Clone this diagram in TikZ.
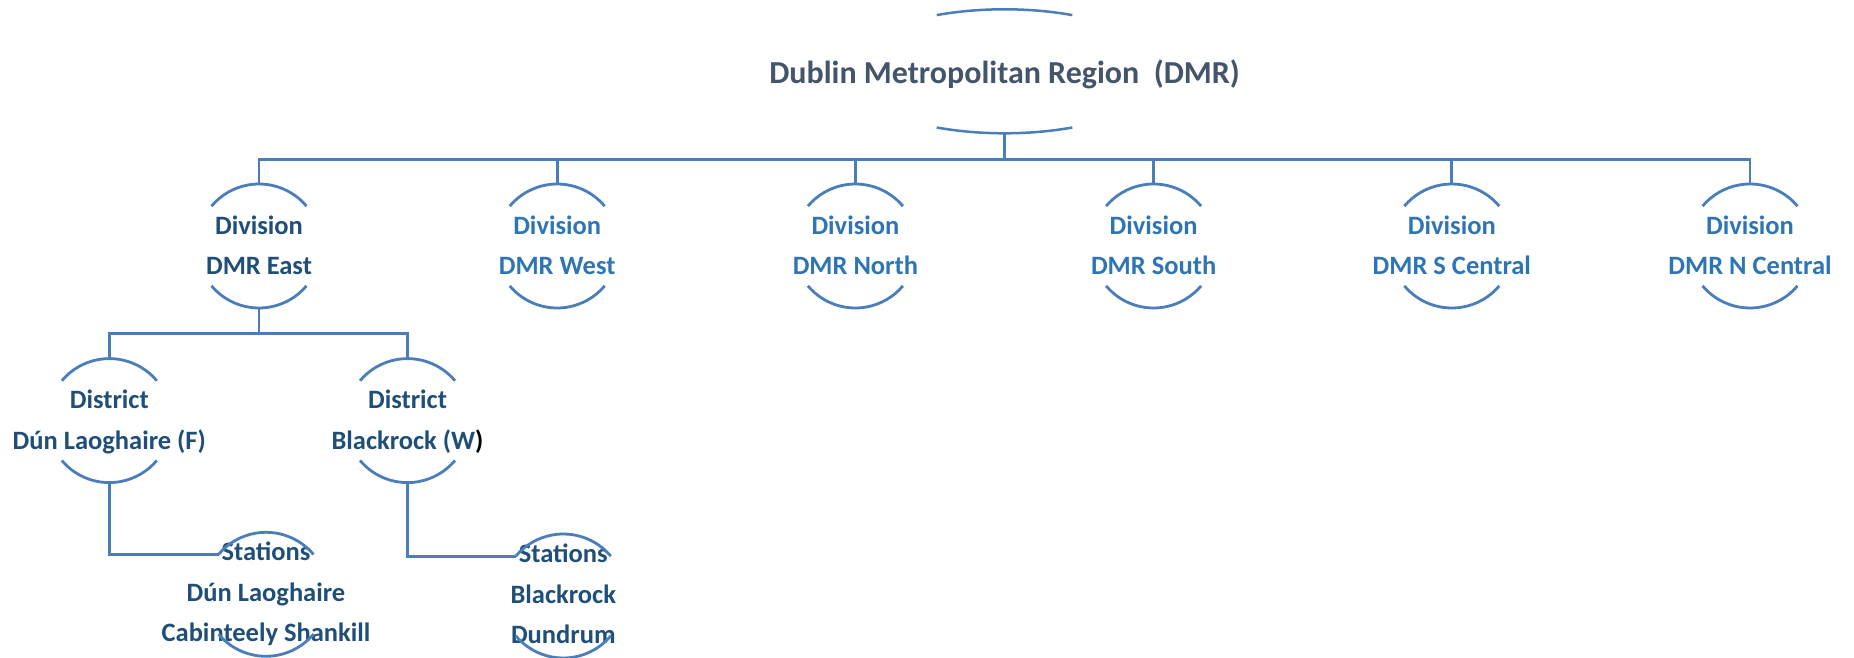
\documentclass[tikz,border=0pt]{standalone}
\usepackage{fontspec}
\setmainfont{Carlito}
\definecolor{lineblue}{HTML}{4A7EBB}
\definecolor{titlegrey}{HTML}{44546A}
\definecolor{darkblue}{HTML}{1F4E79}
\definecolor{lightblue}{HTML}{2E75B6}
\begin{document}
\begin{tikzpicture}[x=1pt,y=1pt,
  link/.style={draw=lineblue,line width=2.8pt},
  arcline/.style={draw=lineblue,line width=2.8pt},
  unit/.style={rectangle,minimum height=124pt,inner sep=0pt,align=center,
    font=\bfseries\fontsize{26.5}{40.5}\selectfont},
  twoline/.style={unit,text height=57.5pt,text depth=0pt},
  threeline/.style={unit,text height=95pt,text depth=0pt},
]
\useasboundingbox (0,0) rectangle (1854,-658);

% title
\node[unit,text height=24pt,text depth=0pt,text=titlegrey,
  font=\bfseries\fontsize{32}{37}\selectfont] (dmr) at (1004.5,-71.3)
  {Dublin Metropolitan Region~~(DMR)};
\draw[arcline,line width=2.5pt] ([shift={(65:160.5pt and 62pt)}]dmr.center)
  arc[start angle=65,end angle=115,x radius=160.5pt,y radius=62pt];
\draw[arcline,line width=2.5pt] ([shift={(245:160.5pt and 62pt)}]dmr.center)
  arc[start angle=245,end angle=295,x radius=160.5pt,y radius=62pt];

% divisions
\node[twoline,text=darkblue]  (deast)  at (259,-246)    {Division\\DMR East};
\node[twoline,text=lightblue] (dwest)  at (557.2,-246)  {Division\\DMR West};
\node[twoline,text=lightblue] (dnorth) at (855.4,-246)  {Division\\DMR North};
\node[twoline,text=lightblue] (dsouth) at (1153.6,-246) {Division\\DMR South};
\node[twoline,text=lightblue] (dscen)  at (1451.8,-246) {Division\\DMR S Central};
\node[twoline,text=lightblue] (dncen)  at (1750,-246)   {Division\\DMR N Central};

% districts
\node[twoline,text=darkblue] (dl) at (109.3,-420.6) {District\\Dún Laoghaire (F)};
\node[twoline,text=darkblue] (br) at (407.5,-420.6) {District\\Blackrock (W\textcolor{black}{)}};

% stations
\node[threeline,text=darkblue] (stl) at (266,-594.3) {Stations\\Dún Laoghaire\\Cabinteely Shankill};
\node[threeline,text=darkblue] (str) at (563.3,-596) {Stations\\Blackrock\\Dundrum};

% arcs of the circular nodes
\foreach \n in {deast,dwest,dnorth,dsouth,dscen,dncen,dl,br,stl,str}{
  \draw[arcline] ([shift={(40:62pt)}]\n.center) arc[start angle=40,end angle=140,radius=62pt];
  \draw[arcline] ([shift={(220:62pt)}]\n.center) arc[start angle=220,end angle=320,radius=62pt];
}

% connectors
\draw[link] (dmr.south) -- ++(0,-25.7) coordinate (hub);
\draw[link] (deast.north) |- (dncen.north |- hub) -- (dncen.north);
\foreach \n in {dwest,dnorth,dsouth,dscen}{
  \draw[link] (\n.north) -- (\n.north |- hub);
}
\draw[link] (deast.south) -- ++(0,-25.3) coordinate (dhub);
\draw[link] (dl.north) |- (br.north |- dhub) -- (br.north);
\draw[link] (dl.south) |- ([shift={(140:62pt)}]stl.center);
\draw[link] (br.south) |- ([shift={(140:62pt)}]str.center);
\end{tikzpicture}
\end{document}
